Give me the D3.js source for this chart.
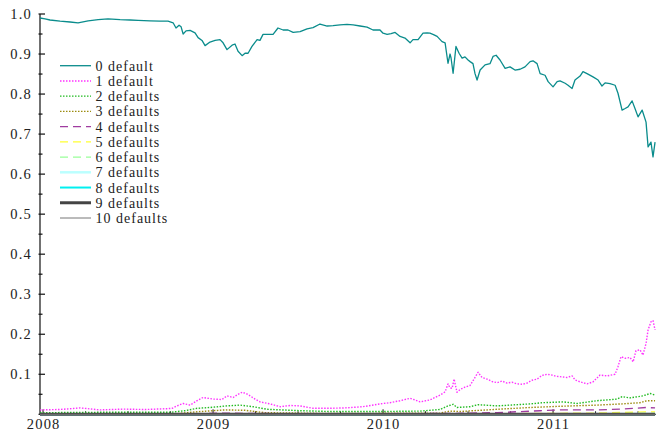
<!DOCTYPE html>
<html>
<head>
<meta charset="utf-8">
<script src="https://cdn.jsdelivr.net/npm/d3@7"></script>
<style>
  html, body { margin: 0; padding: 0; background: #fff; }
  svg { display: block; }
  text { font-family: "Liberation Serif", "Times New Roman", serif; fill: #222; }
</style>
</head>
<body>
<svg id="chart" width="659" height="431"></svg>
<script>
// Probability of k defaults in the basket over time, [decimal year, probability]
const yearTicks = [2008, 2009, 2010, 2011];
const valueTicks = [0.1, 0.2, 0.3, 0.4, 0.5, 0.6, 0.7, 0.8, 0.9, 1.0];
const seriesLabels = ["0 default", "1 default", "2 defaults", "3 defaults", "4 defaults",
  "5 defaults", "6 defaults", "7 defaults", "8 defaults", "9 defaults", "10 defaults"];

const zeroDefault = [
  [2007.982, 0.990], [2008.012, 0.988], [2008.041, 0.985], [2008.100, 0.982], [2008.159, 0.980],
  [2008.206, 0.978], [2008.265, 0.983], [2008.324, 0.986], [2008.382, 0.988], [2008.453, 0.986],
  [2008.512, 0.985], [2008.559, 0.984], [2008.629, 0.983], [2008.688, 0.982], [2008.735, 0.982],
  [2008.765, 0.978], [2008.782, 0.965], [2008.800, 0.972], [2008.812, 0.968], [2008.824, 0.950],
  [2008.841, 0.958], [2008.865, 0.959], [2008.894, 0.953], [2008.912, 0.941], [2008.935, 0.934],
  [2008.953, 0.921], [2008.982, 0.930], [2009.012, 0.934], [2009.041, 0.936], [2009.059, 0.928],
  [2009.082, 0.911], [2009.112, 0.922], [2009.129, 0.925], [2009.147, 0.907], [2009.171, 0.896],
  [2009.188, 0.902], [2009.206, 0.902], [2009.229, 0.919], [2009.259, 0.936], [2009.276, 0.934],
  [2009.294, 0.949], [2009.324, 0.949], [2009.353, 0.949], [2009.382, 0.965], [2009.412, 0.960],
  [2009.441, 0.960], [2009.471, 0.954], [2009.512, 0.956], [2009.553, 0.963], [2009.588, 0.966],
  [2009.629, 0.975], [2009.671, 0.970], [2009.706, 0.971], [2009.747, 0.973], [2009.788, 0.974],
  [2009.824, 0.973], [2009.865, 0.970], [2009.906, 0.967], [2009.941, 0.960], [2009.982, 0.960],
  [2010.000, 0.952], [2010.024, 0.949], [2010.047, 0.951], [2010.071, 0.954], [2010.100, 0.944],
  [2010.129, 0.940], [2010.159, 0.928], [2010.176, 0.936], [2010.206, 0.936], [2010.235, 0.952],
  [2010.259, 0.953], [2010.276, 0.952], [2010.300, 0.948], [2010.318, 0.944], [2010.347, 0.931],
  [2010.365, 0.928], [2010.382, 0.877], [2010.394, 0.900], [2010.400, 0.890], [2010.412, 0.852],
  [2010.429, 0.919], [2010.447, 0.902], [2010.465, 0.890], [2010.482, 0.893], [2010.500, 0.885],
  [2010.512, 0.881], [2010.529, 0.876], [2010.541, 0.851], [2010.553, 0.835], [2010.571, 0.860],
  [2010.600, 0.873], [2010.629, 0.876], [2010.647, 0.894], [2010.665, 0.897], [2010.688, 0.885],
  [2010.718, 0.864], [2010.747, 0.868], [2010.776, 0.860], [2010.806, 0.862], [2010.835, 0.868],
  [2010.865, 0.881], [2010.882, 0.883], [2010.906, 0.876], [2010.924, 0.851], [2010.953, 0.847],
  [2010.971, 0.831], [2011.000, 0.818], [2011.024, 0.831], [2011.041, 0.833], [2011.071, 0.827],
  [2011.088, 0.822], [2011.112, 0.814], [2011.129, 0.835], [2011.159, 0.845], [2011.176, 0.856],
  [2011.200, 0.851], [2011.235, 0.843], [2011.265, 0.835], [2011.288, 0.820], [2011.306, 0.828],
  [2011.335, 0.826], [2011.365, 0.822], [2011.382, 0.802], [2011.406, 0.760], [2011.424, 0.764],
  [2011.441, 0.768], [2011.465, 0.783], [2011.482, 0.764], [2011.500, 0.743], [2011.524, 0.760],
  [2011.547, 0.730], [2011.559, 0.668], [2011.576, 0.680], [2011.588, 0.643], [2011.600, 0.680]
];

const oneDefault = [
  [2007.982, 0.011], [2008.100, 0.012], [2008.218, 0.016], [2008.335, 0.011], [2008.471, 0.013],
  [2008.600, 0.012], [2008.729, 0.014], [2008.759, 0.015], [2008.788, 0.021], [2008.824, 0.027],
  [2008.865, 0.023], [2008.906, 0.034], [2008.941, 0.042], [2009.000, 0.038], [2009.053, 0.037],
  [2009.082, 0.046], [2009.118, 0.042], [2009.147, 0.050], [2009.171, 0.055], [2009.194, 0.052],
  [2009.218, 0.046], [2009.247, 0.038], [2009.276, 0.031], [2009.335, 0.026], [2009.394, 0.019],
  [2009.453, 0.022], [2009.512, 0.021], [2009.588, 0.015], [2009.688, 0.015], [2009.776, 0.016],
  [2009.882, 0.019], [2009.982, 0.026], [2010.041, 0.029], [2010.100, 0.034], [2010.159, 0.040],
  [2010.188, 0.036], [2010.218, 0.031], [2010.276, 0.036], [2010.335, 0.048], [2010.365, 0.056],
  [2010.382, 0.076], [2010.394, 0.066], [2010.406, 0.065], [2010.418, 0.088], [2010.435, 0.055],
  [2010.453, 0.062], [2010.482, 0.068], [2010.512, 0.072], [2010.541, 0.092], [2010.559, 0.105],
  [2010.582, 0.092], [2010.612, 0.088], [2010.641, 0.082], [2010.671, 0.079], [2010.700, 0.083],
  [2010.729, 0.078], [2010.759, 0.080], [2010.788, 0.076], [2010.818, 0.075], [2010.847, 0.078],
  [2010.876, 0.085], [2010.906, 0.088], [2010.935, 0.097], [2010.965, 0.100], [2010.994, 0.098],
  [2011.018, 0.095], [2011.041, 0.094], [2011.082, 0.092], [2011.112, 0.096], [2011.129, 0.086],
  [2011.159, 0.081], [2011.200, 0.076], [2011.235, 0.081], [2011.276, 0.098], [2011.318, 0.096],
  [2011.365, 0.100], [2011.382, 0.119], [2011.400, 0.144], [2011.424, 0.140], [2011.453, 0.142],
  [2011.471, 0.131], [2011.488, 0.159], [2011.512, 0.161], [2011.529, 0.148], [2011.547, 0.177],
  [2011.559, 0.211], [2011.576, 0.231], [2011.588, 0.234], [2011.600, 0.211]
];

const twoDefaults = [
  [2007.982, 0.004], [2008.335, 0.005], [2008.747, 0.005], [2008.835, 0.009], [2008.906, 0.015],
  [2008.982, 0.017], [2009.082, 0.021], [2009.159, 0.023], [2009.235, 0.019], [2009.318, 0.0125],
  [2009.512, 0.009], [2009.688, 0.007], [2009.982, 0.007], [2010.218, 0.008], [2010.335, 0.012],
  [2010.382, 0.021], [2010.412, 0.025], [2010.435, 0.017], [2010.512, 0.019], [2010.559, 0.024],
  [2010.671, 0.021], [2010.865, 0.026], [2010.941, 0.029], [2011.059, 0.031], [2011.141, 0.027],
  [2011.259, 0.034], [2011.376, 0.038], [2011.406, 0.044], [2011.453, 0.041], [2011.529, 0.046],
  [2011.571, 0.052], [2011.600, 0.048]
];

const threeDefaults = [
  [2007.982, 0.001], [2008.776, 0.001], [2008.894, 0.006], [2009.071, 0.011], [2009.188, 0.010],
  [2009.306, 0.004], [2009.688, 0.002], [2010.335, 0.003], [2010.394, 0.008], [2010.453, 0.007],
  [2010.671, 0.0125], [2010.865, 0.017], [2011.041, 0.020], [2011.259, 0.023], [2011.406, 0.026],
  [2011.512, 0.029], [2011.553, 0.034], [2011.600, 0.034]
];

const fourDefaults = [
  [2007.982, 0.0003], [2008.853, 0.0005], [2009.071, 0.003], [2009.253, 0.002], [2009.688, 0.001],
  [2010.394, 0.002], [2010.671, 0.004], [2010.924, 0.009], [2011.041, 0.011], [2011.259, 0.011],
  [2011.406, 0.013], [2011.553, 0.017], [2011.600, 0.016]
];

const fiveDefaults = [
  [2007.982, 0.0001], [2009.071, 0.0008], [2009.688, 0.0003], [2010.394, 0.0006], [2010.924, 0.002],
  [2011.259, 0.003], [2011.553, 0.006], [2011.600, 0.006]
];

const sixDefaults = [
  [2007.982, 0.0], [2009.071, 0.0003], [2010.394, 0.0002], [2010.924, 0.0008], [2011.553, 0.002],
  [2011.600, 0.002]
];

const sevenDefaults = [[2007.982, 0.0], [2010.924, 0.0003], [2011.553, 0.0008], [2011.600, 0.0008]];
const eightDefaults = [[2007.982, 0.0], [2010.924, 0.0001], [2011.553, 0.0004], [2011.600, 0.0004]];
const nineDefaults = [[2007.982, 0.0001], [2011.600, 0.0002]];
const tenDefaults = [[2007.982, 0.0], [2011.600, 0.0001]];

const allSeries = [zeroDefault, oneDefault, twoDefaults, threeDefaults, fourDefaults, fiveDefaults,
  sixDefaults, sevenDefaults, eightDefaults, nineDefaults, tenDefaults];

// Line styles per series: colour, width, dash pattern
const styles = [
  { color: "#0a8c8c", width: 1.3, dash: null },
  { color: "#ff33ff", width: 1.4, dash: "1.5,1.5" },
  { color: "#22bb22", width: 1.4, dash: "1.5,1.5" },
  { color: "#9c8c10", width: 1.4, dash: "1.5,1.5" },
  { color: "#a03ca0", width: 1.4, dash: "8,5" },
  { color: "#ffff33", width: 1.4, dash: "8,5" },
  { color: "#99ff99", width: 1.4, dash: "8,5" },
  { color: "#bbffff", width: 2.5, dash: null },
  { color: "#00f0f0", width: 2.0, dash: null },
  { color: "#444444", width: 3.0, dash: null },
  { color: "#777777", width: 1.0, dash: null }
];

const svg = d3.select("#chart");
const plotLeft = 40, plotTop = 14, plotBottom = 414.3;

const x = d3.scaleLinear().domain([2007.982, 2011.605]).range([plotLeft, 655.9]);
const y = d3.scaleLinear().domain([0, 1]).range([plotBottom, plotTop]);

// Axes
const axisG = svg.append("g");
axisG.append("line").attr("x1", plotLeft).attr("x2", plotLeft).attr("y1", plotTop).attr("y2", plotBottom)
  .attr("stroke", "#111").attr("stroke-width", 1.2);
axisG.append("line").attr("x1", plotLeft).attr("x2", x(2011.605)).attr("y1", plotBottom).attr("y2", plotBottom)
  .attr("stroke", "#111").attr("stroke-width", 1);

// y ticks: major at 0.1, minor halfway between
const minorY = d3.range(0, 20).map(i => 0.05 + i * 0.1).filter(v => v < 1);
axisG.selectAll(".ymaj").data([0].concat(valueTicks)).join("line")
  .attr("x1", plotLeft - 1.5).attr("x2", plotLeft + 5)
  .attr("y1", d => y(d)).attr("y2", d => y(d))
  .attr("stroke", "#111").attr("stroke-width", 1.2);
axisG.selectAll(".ymin").data(minorY).join("line")
  .attr("x1", plotLeft - 1.5).attr("x2", plotLeft + 2.5)
  .attr("y1", d => y(d)).attr("y2", d => y(d))
  .attr("stroke", "#111").attr("stroke-width", 1.2);
axisG.selectAll(".ylab").data(valueTicks).join("text")
  .attr("x", 32).attr("y", d => y(d) + 4.8)
  .attr("text-anchor", "end")
  .attr("font-size", "14.5px")
  .attr("letter-spacing", "1.2px")
  .text(d => d3.format(".1f")(d));

// x ticks: years with quarter marks
const quarterTicks = d3.range(0, 15).map(i => 2008 + i * 0.25).filter(v => v <= 2011.6 && v % 1 !== 0);
axisG.selectAll(".xmaj").data(yearTicks).join("line")
  .attr("x1", d => x(d)).attr("x2", d => x(d))
  .attr("y1", plotBottom).attr("y2", plotBottom - 5)
  .attr("stroke", "#111").attr("stroke-width", 1);
axisG.selectAll(".xmin").data(quarterTicks).join("line")
  .attr("x1", d => x(d)).attr("x2", d => x(d))
  .attr("y1", plotBottom).attr("y2", plotBottom - 3)
  .attr("stroke", "#111").attr("stroke-width", 1);
axisG.selectAll(".xlab").data(yearTicks).join("text")
  .attr("x", d => x(d) + 0.6).attr("y", plotBottom + 14.8)
  .attr("text-anchor", "middle")
  .attr("font-size", "14.5px")
  .attr("letter-spacing", "1.2px")
  .text(d => d3.format("d")(d));

// Series lines
const line = d3.line().x(d => x(d[0])).y(d => y(d[1]));
const linesG = svg.append("g");
allSeries.forEach((s, i) => {
  linesG.append("path")
    .datum(s)
    .attr("d", line)
    .attr("fill", "none")
    .attr("stroke", styles[i].color)
    .attr("stroke-width", styles[i].width)
    .attr("stroke-dasharray", styles[i].dash)
    .attr("stroke-linejoin", "round");
});

// Legend
const legend = svg.append("g");
const rowY = i => 65.7 + i * 15.23;
seriesLabels.forEach((label, i) => {
  legend.append("line")
    .attr("x1", 60).attr("x2", 91)
    .attr("y1", rowY(i)).attr("y2", rowY(i))
    .attr("stroke", styles[i].color)
    .attr("stroke-width", styles[i].width)
    .attr("stroke-dasharray", styles[i].dash);
  legend.append("text")
    .attr("x", 95.5).attr("y", rowY(i) + 5)
    .attr("font-size", "14px")
    .attr("letter-spacing", "1px")
    .text(label);
});
</script>
</body>
</html>
